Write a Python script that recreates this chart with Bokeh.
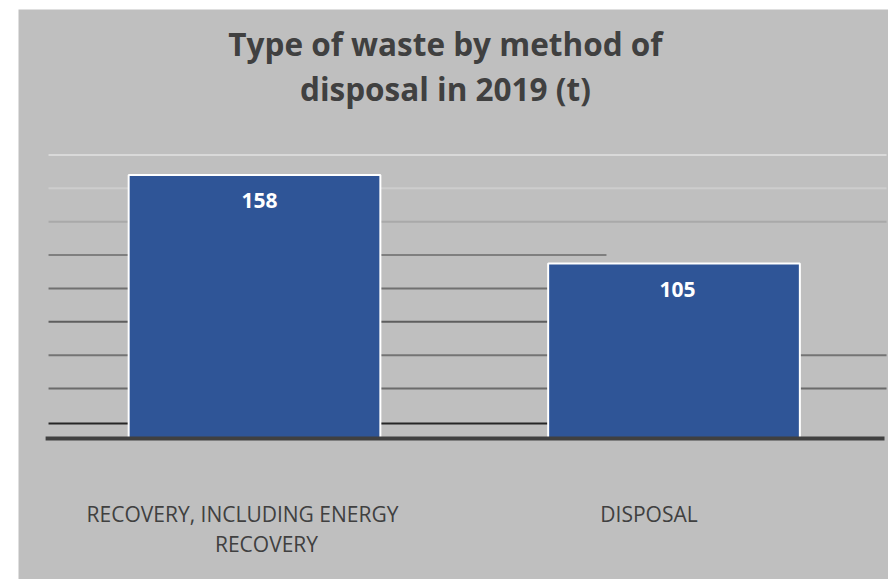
from bokeh.plotting import figure
from bokeh.models import Range1d, ColumnDataSource
from bokeh.core.properties import value
from bokeh.embed import file_html
from bokeh.resources import INLINE

# --- data -------------------------------------------------------------
title_lines = ["Type of waste by method of", "disposal in 2019 (t)"]
categories = ["RECOVERY, INCLUDING ENERGY RECOVERY", "DISPOSAL"]
category_lines = [["RECOVERY, INCLUDING ENERGY", "RECOVERY"], ["DISPOSAL"]]
tonnes = [158, 105]
grid_values = [9, 30, 50, 70, 90, 110, 130, 150, 170]

# --- styling ----------------------------------------------------------
BG = "#bfbfbf"
BAR = "#2f5597"
TEXT = "#404040"
grid_colors = ["#262626", "#6b6b6b", "#747474", "#5e5e5e", "#707070",
               "#7f7f7f", "#a9a9a9", "#cdcdcd", "#d9d9d9"]
X_LEFT, X_RIGHT = 0.009, 2.0066
grid_ends = [1.80, X_RIGHT, X_RIGHT, 1.80, 1.80, 1.339, X_RIGHT, X_RIGHT, X_RIGHT]

xs = [i + 0.5 for i in range(len(categories))]

p = figure(width=870, height=570, output_backend="svg", toolbar_location=None,
           x_range=Range1d(-0.0626, 2.0113), y_range=Range1d(-84.5, 257.2),
           x_axis_type=None, y_axis_type=None, min_border=0,
           background_fill_color=BG, border_fill_color=BG,
           outline_line_color=None, margin=(9, 0, 0, 18))
p.grid.visible = False

# horizontal guide lines
p.segment(x0=[X_LEFT] * len(grid_values), x1=grid_ends,
          y0=grid_values, y1=grid_values, line_color=grid_colors, line_width=2)

# bars
src = ColumnDataSource(dict(x=xs, top=tonnes, lab=[str(v) for v in tonnes],
                            dx=[5, 3.5]))
p.vbar(x="x", top="top", bottom=0, width=0.6, source=src,
       fill_color=BAR, line_color="white", line_width=2)

# baseline
p.segment(x0=[0.002], x1=[2.0018], y0=[0], y1=[0], line_color=TEXT, line_width=4)

# value labels inside bars
p.text(x="x", y="top", text="lab", source=src, x_offset="dx", y_offset=26,
       text_align="center", text_baseline="alphabetic", text_color="white",
       text_font=value("Open Sans"), text_font_style="bold",
       text_font_size="21px")

# category labels
lx, ly, lt, lxo, lyo = [], [], [], [], []
shifts = [[-12, 12], [-25]]
for i, lines in enumerate(category_lines):
    for j, line in enumerate(lines):
        lx.append(xs[i])
        ly.append(0)
        lt.append(line)
        lxo.append(shifts[i][j])
        lyo.append(75 + 30 * j)
p.text(x=lx, y=ly, text=lt, x_offset=lxo, y_offset=lyo,
       text_align="center", text_baseline="alphabetic", text_color=TEXT,
       text_font=value("Open Sans"), text_font_size="21px")

# title
p.text(x=[0.955, 0.955], y=[236.8, 209.8], text=title_lines,
       text_align="center", text_baseline="alphabetic", text_color=TEXT,
       text_font=value("Open Sans"), text_font_style="bold",
       text_font_size="31.5px")

open("out.html", "w").write(file_html(p, INLINE))
